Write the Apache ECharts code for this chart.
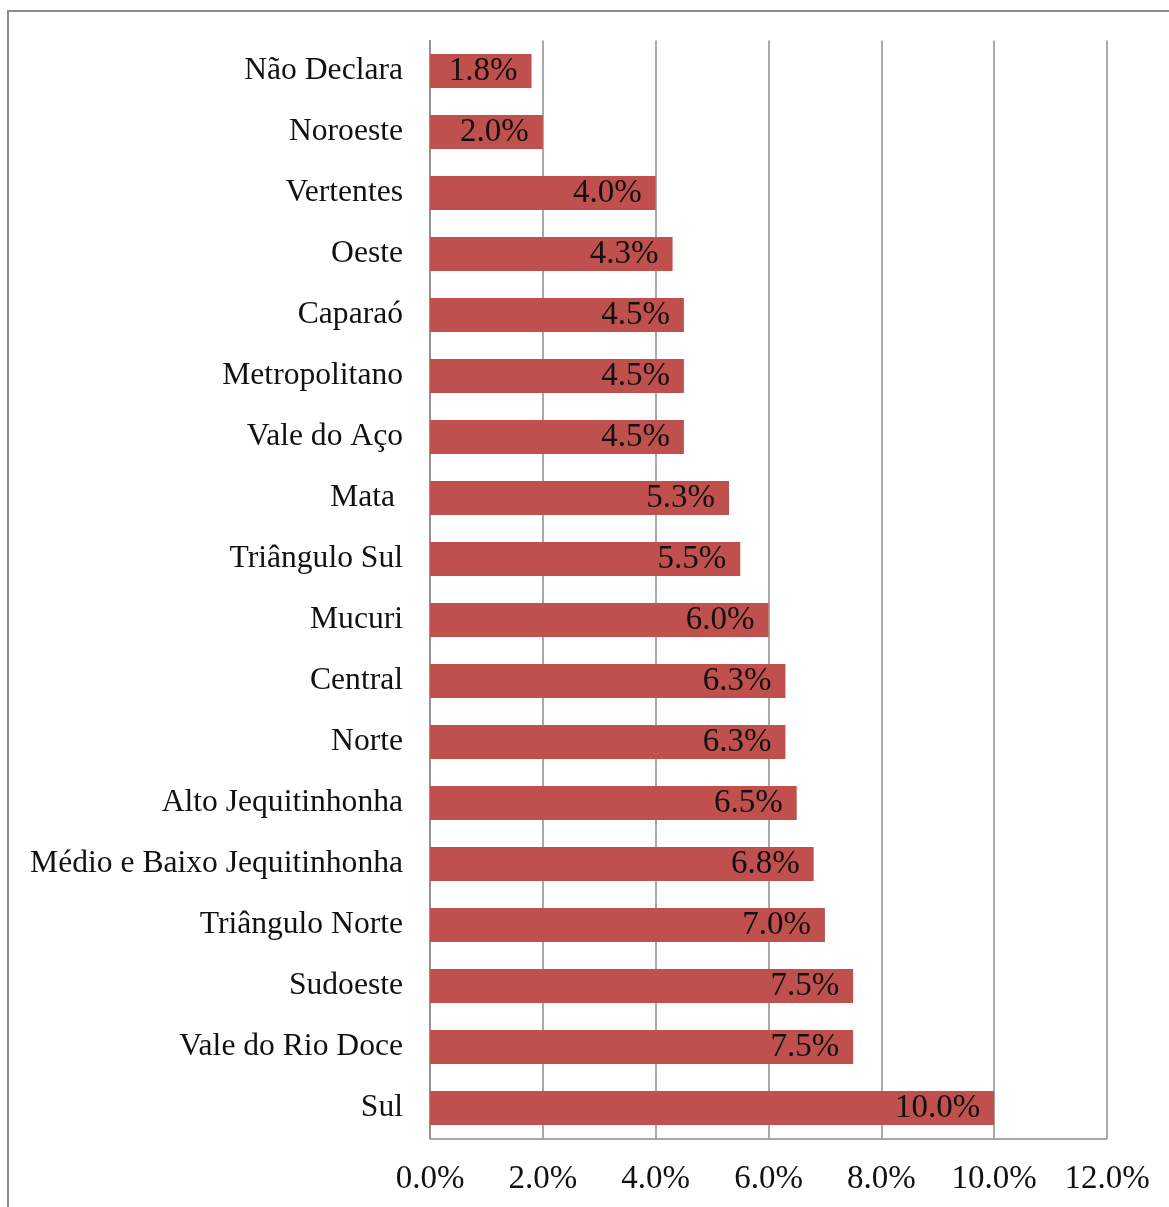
<!DOCTYPE html>
<html>
<head>
<meta charset="utf-8">
<script src="https://cdn.jsdelivr.net/npm/echarts@6/dist/echarts.min.js"></script>
<style>
  html, body { margin: 0; padding: 0; background: #ffffff; }
  #chart { width: 1169px; height: 1207px; }
</style>
</head>
<body>
<div id="chart"></div>
<script>
// Regions, listed top to bottom as they appear on the chart
const regions = [
  'Não Declara', 'Noroeste', 'Vertentes', 'Oeste', 'Caparaó', 'Metropolitano',
  'Vale do Aço', 'Mata ', 'Triângulo Sul', 'Mucuri', 'Central', 'Norte',
  'Alto Jequitinhonha', 'Médio e Baixo Jequitinhonha', 'Triângulo Norte',
  'Sudoeste', 'Vale do Rio Doce', 'Sul'
];
// Share of each region, in percent
const shares = [1.8, 2.0, 4.0, 4.3, 4.5, 4.5, 4.5, 5.3, 5.5, 6.0, 6.3, 6.3, 6.5, 6.8, 7.0, 7.5, 7.5, 10.0];
// Value axis range and step, in percent
const axisMin = 0;
const axisMax = 12;
const axisStep = 2;

const font = '"Liberation Serif", "Times New Roman", serif';
const chart = echarts.init(document.getElementById('chart'));

chart.setOption({
  animation: false,
  backgroundColor: '#ffffff',
  graphic: [{
    type: 'rect',
    shape: { x: 8, y: 11, width: 1300, height: 1300 },
    style: { fill: 'none', stroke: '#8c8c8c', lineWidth: 2 },
    silent: true
  }],
  grid: { left: 430, right: 62, top: 40.5, bottom: 68.5, containLabel: false },
  xAxis: {
    type: 'value',
    min: axisMin,
    max: axisMax,
    interval: axisStep,
    axisLine: { show: true, lineStyle: { color: '#8c8c8c', width: 1.5 } },
    axisTick: { show: false },
    splitLine: { show: true, lineStyle: { color: '#8c8c8c', width: 1.5 } },
    axisLabel: {
      margin: 24,
      fontFamily: font,
      fontSize: 33,
      color: '#111111',
      formatter: v => v.toFixed(1) + '%'
    }
  },
  yAxis: {
    type: 'category',
    data: regions,
    inverse: true,
    axisLine: { show: true, lineStyle: { color: '#8c8c8c', width: 1.5 } },
    axisTick: { show: false },
    splitLine: { show: false },
    axisLabel: {
      margin: 27,
      padding: [7, 0, 0, 0],
      fontFamily: font,
      fontSize: 31.6,
      color: '#111111'
    }
  },
  series: [{
    type: 'bar',
    data: shares,
    barCategoryGap: '44%',
    itemStyle: { color: '#c0504d' },
    label: {
      show: true,
      position: 'insideRight',
      distance: 14,
      padding: [6, 0, 0, 0],
      fontFamily: font,
      fontSize: 33,
      color: '#111111',
      formatter: p => p.value.toFixed(1) + '%'
    }
  }]
});
</script>
</body>
</html>
